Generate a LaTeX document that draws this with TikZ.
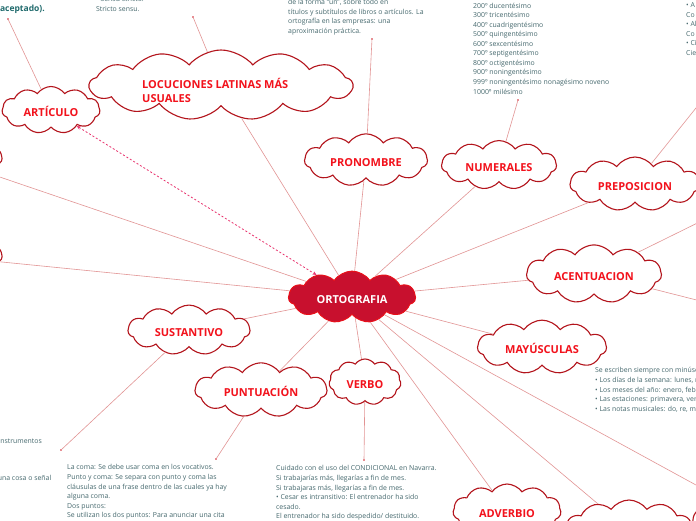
\documentclass[tikz,border=0pt]{standalone}
\usepackage{fontspec}
\setmainfont{Open Sans}
\usetikzlibrary{shapes.symbols,arrows.meta}
\definecolor{cloudline}{HTML}{B3141C}
\definecolor{cloudtext}{HTML}{F2121C}
\definecolor{linkc}{HTML}{E29494}
\definecolor{notec}{HTML}{46696E}
\definecolor{notebold}{HTML}{1F6A6C}
\definecolor{centerc}{HTML}{C8102E}
\definecolor{centerline}{HTML}{E8101A}
\definecolor{dashc}{HTML}{E8336E}
\definecolor{dotc}{HTML}{D01E28}
\begin{document}
\begin{tikzpicture}[x=1pt,y=-1pt,
  topic/.style={cloud, cloud puffs=11, cloud puff arc=110, aspect=2.6,
    draw=cloudline, line width=1.1pt, fill=white, text=cloudtext,
    font=\bfseries\fontsize{11}{13}\selectfont, inner sep=0pt,
    text height=12.5pt, text depth=0pt},
  link/.style={draw=linkc, line width=0.6pt},
  note/.style={anchor=north west, align=left, text=notec,
    font=\fontsize{6.9}{9.55}\selectfont, inner sep=0pt},
  enddot/.style={circle, fill=dotc, inner sep=0pt, minimum size=1.8pt}]
\useasboundingbox (0,0) rectangle (696,520);
\clip (0,0) rectangle (696,520);
\fill[white] (0,0) rectangle (696,520);

% central topic
\node[cloud, cloud puffs=11, cloud puff arc=110, aspect=2.6, fill=centerc,
  draw=centerline, line width=1pt, text=white,
  font=\bfseries\fontsize{11}{13}\selectfont, inner sep=0pt,
  text height=13pt, text depth=0pt,
  minimum width=127pt, minimum height=47pt] (ortho) at (352,297) {ORTOGRAFIA};

% sub topics
\node[topic, minimum width=98pt, minimum height=47pt] (artic) at (51,110) {ARTÍCULO};
\node[topic, cloud puffs=13, cloud puff arc=100, aspect=3.7, minimum width=263pt, minimum height=70pt] (loc) at (221,85) {};
\node[anchor=west, align=left, text=cloudtext, font=\bfseries\fontsize{11}{14}\selectfont, inner sep=0pt] (loclabel) at (142,90) {LOCUCIONES LATINAS MÁS\\USUALES};
\node[topic, minimum width=123pt, minimum height=46pt] (pron) at (366,160) {PRONOMBRE};
\node[topic, minimum width=115pt, minimum height=45pt] (num) at (499,165) {NUMERALES};
\node[topic, minimum width=130pt, minimum height=44pt] (prep) at (635,184) {PREPOSICION};
\node[topic, minimum width=135pt, minimum height=45pt] (acen) at (594,274) {ACENTUACION};
\node[topic, minimum width=129pt, minimum height=45pt] (may) at (542,347) {MAYÚSCULAS};
\node[topic, minimum width=122pt, minimum height=45pt] (sust) at (189,330) {SUSTANTIVO};
\node[topic, minimum width=132pt, minimum height=45pt] (punt) at (261,390) {PUNTUACIÓN};
\node[topic, minimum width=72pt, minimum height=46pt] (verbo) at (365,382) {VERBO};
\node[topic, minimum width=108pt, minimum height=54pt] (adv) at (507,511) {ADVERBIO};
\node[topic, minimum width=128pt, minimum height=60pt] (cloudb) at (629,530) {};
\node[topic, minimum width=134pt, minimum height=50pt] (cloudr) at (760,520) {};
\node[topic, minimum width=116pt, minimum height=46pt] (lefta) at (-56,158) {};
\node[topic, minimum width=120pt, minimum height=46pt] (leftb) at (-58,256) {};

% connectors from the centre
\foreach \t in {loc,pron,num,prep,acen,may,sust,punt,verbo,adv,cloudb,cloudr,lefta,leftb}
  \draw[link] (ortho) -- (\t);
\draw[dashc, line width=0.8pt, dash pattern=on 2pt off 2pt,
  {Stealth[length=4pt,width=3.5pt]}-{Stealth[length=4pt,width=3.5pt]}] (artic) -- (ortho);

% free ends
\node[enddot] (d1) at (8,19) {};
\node[enddot] (d2) at (193,17) {};
\node[enddot] (d3) at (372,39) {};
\node[enddot] (d4) at (518,100) {};
\node[enddot] (d5) at (61,450) {};
\node[enddot] (d6) at (216,459) {};
\node[enddot] (d7) at (364,460) {};
\coordinate (e1) at (712,88);
\coordinate (e2) at (740,202);
\coordinate (e3) at (740,311);
\draw[link] (artic) -- (d1);
\draw[link] (loc) -- (d2);
\draw[link] (pron) -- (d3);
\draw[link] (num) -- (d4);
\draw[link] (sust) -- (d5);
\draw[link] (punt) -- (d6);
\draw[link] (verbo) -- (d7);
\draw[link] (prep) -- (e1);
\draw[link] (acen) -- (e2);
\draw[link] (acen) -- (e3);

% notes
\node[anchor=north west, text=notebold, font=\bfseries\fontsize{8.5}{11}\selectfont, inner sep=0pt] (n0) at (-3,5) {(aceptado).};
\node[note] (n1) at (96,-3.8) {• Sensu stricto.\\Stricto sensu.};
\node[note] (n2) at (288,-0.6) {de la forma “un”, sobre todo en\\títulos y subtítulos de libros o artículos. La\\ortografía en las empresas: una\\aproximación práctica.};
\node[note] (n3) at (473,2.6) {200º ducentésimo\\300º tricentésimo\\400º cuadrigentésimo\\500º quingentésimo\\600º sexcentésimo\\700º septigentésimo\\800º octigentésimo\\900º noningentésimo\\999º noningentésimo nonagésimo noveno\\1000º milésimo};
\node[note] (n4) at (686,2.5) {• A\\Co\\• Al\\Co\\• Ci\\Cie};
\node[note] (n5) at (595,367.5) {Se escriben siempre con minúscula:\\• Los días de la semana: lunes, martes\\• Los meses del año: enero, febrero\\• Las estaciones: primavera, verano\\• Las notas musicales: do, re, mi};
\node[note] (n6) at (67,464.5) {La coma: Se debe usar coma en los vocativos.\\Punto y coma: Se separa con punto y coma las\\cláusulas de una frase dentro de las cuales ya hay\\alguna coma.\\Dos puntos:\\Se utilizan los dos puntos: Para anunciar una cita};
\node[note] (n7) at (276,465.5) {Cuidado con el uso del CONDICIONAL en Navarra.\\Si trabajarías más, llegarías a fin de mes.\\Si trabajaras más, llegarías a fin de mes.\\• Cesar es intransitivo: El entrenador ha sido\\cesado.\\El entrenador ha sido despedido/ destituido.};
\node[note, anchor=east] (n8) at (42,440.5) {instrumentos};
\node[note, anchor=east] (n9) at (51.5,477.5) {una cosa o señal};
\end{tikzpicture}
\end{document}
